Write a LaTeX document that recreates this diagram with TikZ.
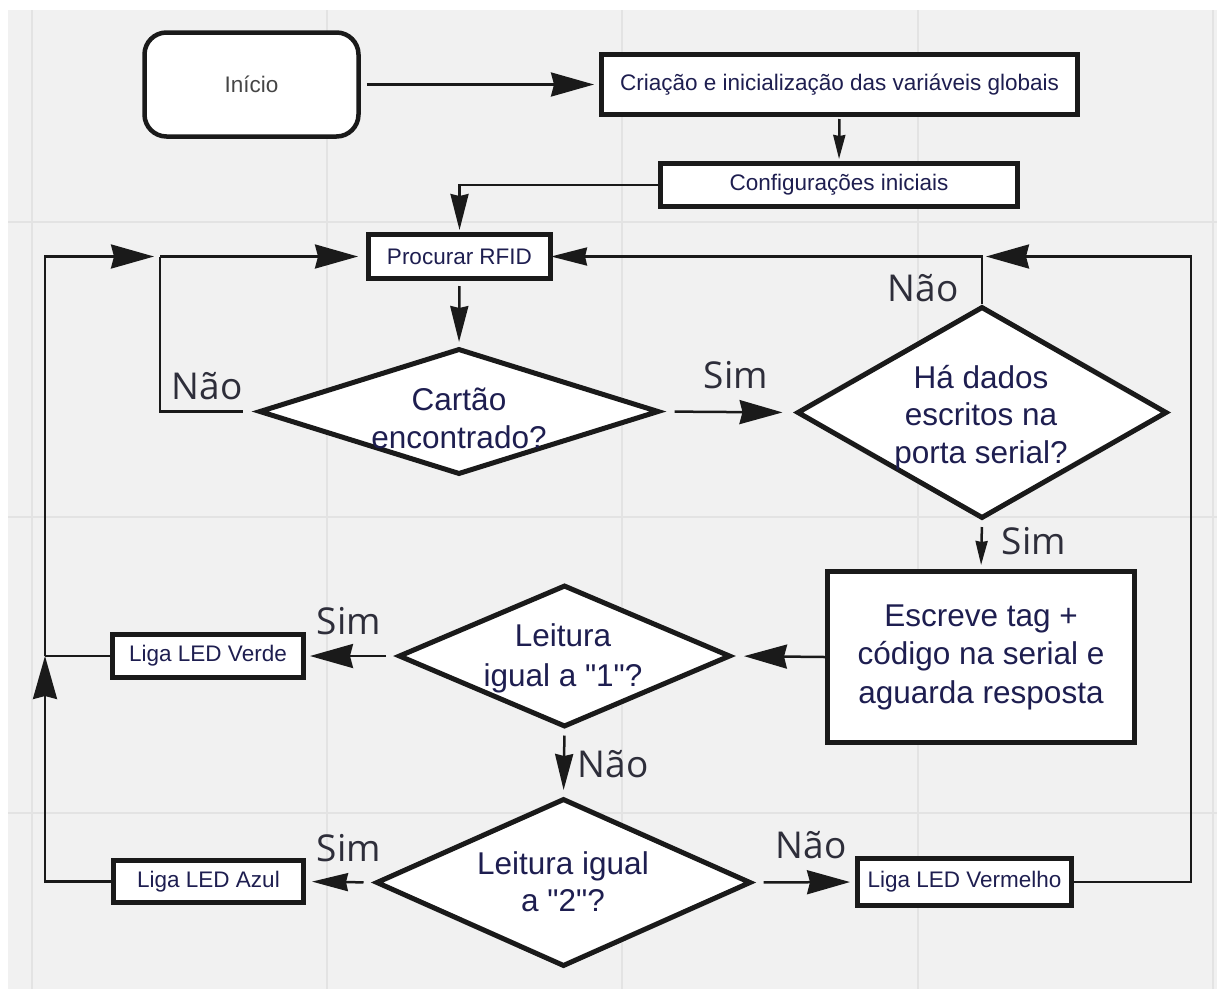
\documentclass[tikz,border=0pt]{standalone}
\usepackage{fontspec}
\setmainfont{Liberation Sans}
\newfontfamily\nf{Liberation Sans}
\newfontfamily\labelfont{Open Sans}
\usetikzlibrary{arrows.meta,shapes.geometric}
\definecolor{bg}{HTML}{F1F1F1}
\definecolor{gridc}{HTML}{E3E3E3}
\definecolor{txt}{HTML}{1E1E50}
\definecolor{lbl}{HTML}{2E2E3A}
\definecolor{ink}{HTML}{1A1A1A}
\definecolor{inic}{HTML}{454545}
\begin{document}
\begin{tikzpicture}[x=1pt,y=-1pt,
  box/.style={draw=ink, line width=5pt, fill=white, rectangle, inner sep=0pt, text=txt, font=\nf\fontsize{22.5}{26}\selectfont},
  dia/.style={draw=ink, line width=5pt, fill=white, diamond, inner sep=0pt, line join=miter},
  dtext/.style={text=txt, align=center, font=\nf\fontsize{31.5}{37.5}\selectfont, inner sep=0pt},
  lab/.style={text=lbl, font=\labelfont\fontsize{37}{42}\selectfont, inner sep=0pt},
  conn/.style={draw=ink, line width=2.5pt},
  big/.style={conn, -{Stealth[length=43pt,width=24pt,inset=3pt]}},
  med/.style={conn, -{Stealth[length=36pt,width=18pt,inset=2pt]}},
  small/.style={conn, -{Stealth[length=24pt,width=12pt,inset=1pt]}},
]
\useasboundingbox (0,0) rectangle (1217,989);
\fill[white] (0,0) rectangle (1217,989);
\fill[bg] (8,10) rectangle (1217,989);
\foreach \x in {32,327,622,918,1213} \draw[gridc, line width=1.5pt] (\x,10) -- (\x,989);
\foreach \y in {222,517,813} \draw[gridc, line width=1.5pt] (8,\y) -- (1217,\y);

\node[box, rounded corners=22pt, minimum width=214pt, minimum height=104pt, line width=4.5pt, text=inic] (inicio) at (251.5,84.5) {Início};
\node[box, minimum width=476pt, minimum height=60pt] (criacao) at (839.5,84.5) {Criação e inicialização das variáveis globais};
\node[box, minimum width=357pt, minimum height=43pt] (config) at (839,185) {Configurações iniciais};
\node[box, minimum width=182pt, minimum height=44pt] (procurar) at (459.5,256.5) {Procurar RFID};
\node[dia, minimum width=400pt, minimum height=126pt] (cartao) at (459,411.5) {};
\node[dtext] (cartaot) at (459,418.5) {Cartão\\encontrado?};
\node[dia, minimum width=370pt, minimum height=212pt] (hadados) at (982,412.5) {};
\node[dtext] (hadadost) at (981,417.5) {Há dados\\escritos na\\porta serial?};
\node[box, minimum width=307pt, minimum height=171pt, font=\nf\fontsize{31.5}{38.5}\selectfont, align=center] (escreve) at (981,657) {Escreve tag +\\código na serial e\\aguarda resposta};
\node[dia, minimum width=332pt, minimum height=142pt] (leit1) at (564.5,656) {};
\node[dtext, font=\nf\fontsize{31.5}{40}\selectfont] (leit1t) at (563,658) {Leitura\\igual a "1"?};
\node[box, minimum width=191pt, minimum height=43pt] (verde) at (208,656) {Liga LED Verde};
\node[dia, minimum width=375pt, minimum height=168pt] (leit2) at (563.5,882.5) {};
\node[dtext, font=\nf\fontsize{31.5}{37}\selectfont] (leit2t) at (563,881.5) {Leitura igual\\a "2"?};
\node[box, minimum width=190pt, minimum height=42pt] (azul) at (208.5,881.5) {Liga LED Azul};
\node[box, minimum width=214pt, minimum height=47pt] (vermelho) at (964.5,882) {Liga LED Vermelho};

\coordinate (jl) at (160,256.5);
\coordinate (jr) at (hadados.north |- procurar.east);
\coordinate (ul) at (45,656);
\coordinate (ur) at (1191,256.5);

\draw[big, shorten <=6pt, shorten >=5pt] (inicio.east) -- (criacao.west);
\draw[small, shorten <=2pt, shorten >=2pt] (criacao.south) -- (config.north);
\draw[med, shorten >=2pt] (config.west) -| (procurar.north);
\draw[big, shorten >=8pt] (jl) -- (procurar.west);
\draw[conn, shorten <=14pt] (cartao.west) -| (jl);
\draw[med, shorten >=-2pt] (hadados.north) |- (procurar.east);
\draw[big, shorten >=4pt] (vermelho.east) -| (ur) -- (jr);
\draw[med, shorten <=5pt, shorten >=4pt] (procurar.south) -- (cartao.north);
\draw[big, shorten <=13pt, shorten >=12pt] (cartao.east) -- (hadados.west);
\draw[small, shorten <=6pt, shorten >=4pt] (hadados.south) -- (escreve.north);
\draw[big, shorten >=11pt] (escreve.west) -- (leit1.east);
\draw[big, shorten <=10pt, shorten >=4pt] (leit1.west) -- (verde.east);
\draw[med, shorten <=6pt, shorten >=6pt] (leit1.south) -- (leit2.north);
\draw[med, shorten <=10pt, shorten >=6pt] (leit2.west) -- (azul.east);
\draw[big, shorten <=10pt, shorten >=5pt] (leit2.east) -- (vermelho.west);
\draw[conn] (verde.west) -- (ul);
\draw[big] (azul.west) -| (ul);
\draw[big, shorten >=6pt] (ul) |- (jl);

\node[lab] (n1) at (207,386) {Não};
\node[lab] (s1) at (736,375) {Sim};
\node[lab] (n2) at (923,288) {Não};
\node[lab] (s2) at (1034,541) {Sim};
\node[lab] (s3) at (349,621) {Sim};
\node[lab] (n3) at (613,764) {Não};
\node[lab] (s4) at (349,848) {Sim};
\node[lab] (n4) at (811,845) {Não};
\end{tikzpicture}
\end{document}
